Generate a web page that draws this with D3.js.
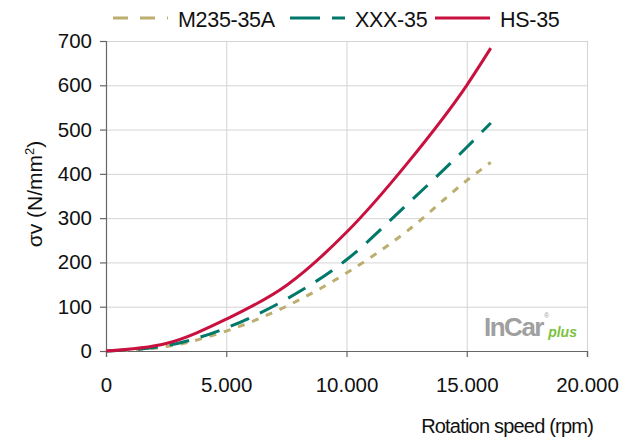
<!DOCTYPE html>
<html>
<head>
<meta charset="utf-8">
<script src="https://cdn.jsdelivr.net/npm/d3@7"></script>
<style>
body { margin: 0; background: #fff; }
svg text { font-family: "Liberation Sans", Arial, sans-serif; fill: #111; }
.grid line { stroke: #d4d4d4; stroke-width: 1; }
.grid .domain { display: none; }
.axis .domain, .axis line { stroke: #666; stroke-width: 1.2; }
.axis text { font-size: 20.5px; }
</style>
</head>
<body>
<div id="chart"></div>
<script>
// rotation speed (rpm)
const speeds = [0, 2500, 5000, 7500, 10000, 12500, 15000, 16000];
// sigma v (N/mm²)
const m235 = [0, 10, 45, 101, 176, 270, 385, 426];
const xxx = [0, 12, 52, 117, 206, 330, 460, 515];
const hs = [0, 17, 72, 148, 268, 422, 600, 684];

const xTicks = [0, 5000, 10000, 15000, 20000];
const yTicks = [0, 100, 200, 300, 400, 500, 600, 700];

const series = [
    { name: "M235-35A", values: m235, color: "#bcae6e", dash: "7,8", legendDash: "15,12" },
    { name: "XXX-35", values: xxx, color: "#00796b", dash: "20,12", legendDash: "30,12" },
    { name: "HS-35", values: hs, color: "#c8113f", dash: null, legendDash: null }
];

const W = 629, H = 439;
const margin = { top: 41, right: 42, bottom: 88, left: 106 };
const width = W - margin.left - margin.right;
const height = H - margin.top - margin.bottom;

const svg = d3.select("#chart").append("svg")
    .attr("width", W).attr("height", H);
const g = svg.append("g").attr("transform", `translate(${margin.left},${margin.top})`);

const x = d3.scaleLinear().domain([0, 20000]).range([0, width]);
const y = d3.scaleLinear().domain([0, 700]).range([height, 0]);

const fmt = d => d === 0 ? "0" : d3.format(",")(d).replace(/,/g, ".");

// gridlines
g.append("g").attr("class", "grid")
    .call(d3.axisBottom(x).tickValues(xTicks.slice(1)).tickSize(height).tickFormat(""));
g.append("g").attr("class", "grid")
    .call(d3.axisLeft(y).tickValues(yTicks.slice(1)).tickSize(-width).tickFormat(""));

// axes
g.append("g").attr("class", "axis")
    .attr("transform", `translate(0,${height})`)
    .call(d3.axisBottom(x).tickValues(xTicks).tickSize(6).tickPadding(20).tickFormat(fmt))
    .call(a => a.select(".domain").attr("stroke", "#333"));
g.append("g").attr("class", "axis")
    .call(d3.axisLeft(y).tickValues(yTicks).tickSize(6).tickPadding(8));

// curves
const line = d3.line()
    .x((d, i) => x(speeds[i]))
    .y(d => y(d))
    .curve(d3.curveMonotoneX);

series.forEach(s => {
    g.append("path")
        .datum(s.values)
        .attr("fill", "none")
        .attr("stroke", s.color)
        .attr("stroke-width", 3)
        .attr("stroke-dasharray", s.dash)
        .attr("d", line);
});

// axis titles
svg.append("text")
    .attr("x", 593).attr("y", 433)
    .attr("text-anchor", "end")
    .attr("font-size", 20)
    .attr("letter-spacing", -0.8)
    .text("Rotation speed (rpm)");

svg.append("text")
    .attr("transform", "translate(42,194) rotate(-90)")
    .attr("text-anchor", "middle")
    .attr("font-size", 21)
    .html("σv (N/mm<tspan dy='-8' font-size='13'>2</tspan><tspan dy='8'>)</tspan>");

// legend
const legendPos = [113, 290, 435];
series.forEach((s, i) => {
    const lg = svg.append("g").attr("transform", `translate(${legendPos[i]},18)`);
    lg.append("line")
        .attr("x1", 0).attr("x2", 55).attr("y1", 0).attr("y2", 0)
        .attr("stroke", s.color).attr("stroke-width", 3)
        .attr("stroke-dasharray", s.legendDash);
    lg.append("text")
        .attr("x", 65).attr("y", 9)
        .attr("font-size", 21.5)
        .attr("letter-spacing", -0.3)
        .text(s.name);
});

// logo (one text element)
const logo = svg.append("text").attr("x", 484).attr("y", 336);
logo.append("tspan")
    .attr("font-size", 26).attr("font-weight", "bold")
    .attr("letter-spacing", -1.5)
    .style("fill", "#a0a0a0").text("InCar");
logo.append("tspan")
    .attr("font-size", 7).attr("dy", -18).attr("dx", 1)
    .style("fill", "#a0a0a0").text("®");
logo.append("tspan")
    .attr("font-size", 14).attr("dy", 19).attr("dx", -1)
    .attr("font-style", "italic").attr("font-weight", "bold")
    .style("fill", "#7cc242").text("plus");
</script>
</body>
</html>
